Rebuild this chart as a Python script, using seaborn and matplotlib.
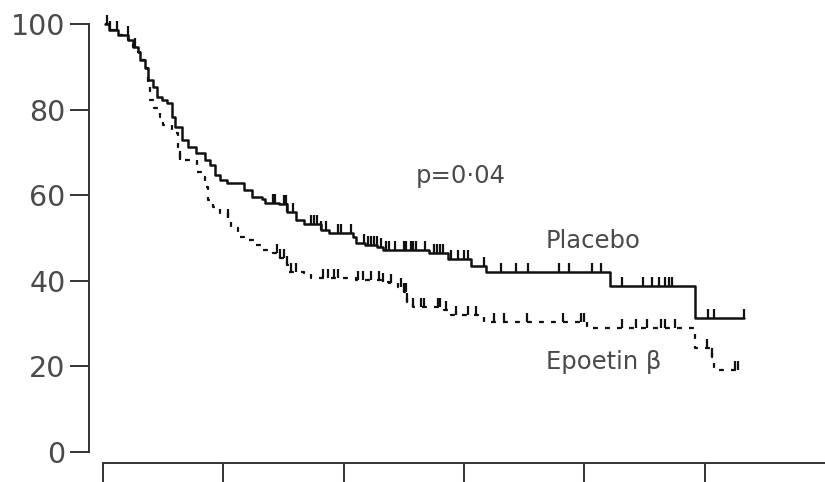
import numpy as np
import matplotlib
matplotlib.use("Agg")
import matplotlib.pyplot as plt
import seaborn as sns

# Kaplan-Meier step curves: time of each step and survival (%) from that time on
placebo_t = [0.02, 0.05, 0.125, 0.21, 0.25, 0.29, 0.31, 0.35, 0.375, 0.417, 0.45, 0.49,
             0.53, 0.575, 0.6, 0.66, 0.71, 0.77, 0.85, 0.89, 0.93, 0.975, 1.03, 1.17,
             1.24, 1.325, 1.35, 1.46, 1.53, 1.6, 1.67, 1.81, 1.875, 2.075, 2.1, 2.18,
             2.28, 2.33, 2.71, 2.87, 3.06, 3.18, 4.21, 4.92, 5.33]
placebo_s = [100, 98.6, 97.4, 96.3, 94.6, 93.5, 91.6, 89.7, 86.9, 85.3, 82.9, 82.2,
             81.5, 78.3, 75.9, 72.9, 71.3, 69.9, 68.2, 67.1, 64.7, 63.6, 62.9, 61.2,
             59.6, 59.1, 58.2, 57.9, 56.1, 54.2, 53.3, 51.9, 51.2, 50.2, 48.8, 48.4,
             47.9, 47.2, 46.5, 45.1, 43.5, 42.1, 38.8, 31.3, 31.3]

epoetin_t = [0.02, 0.05, 0.125, 0.21, 0.25, 0.29, 0.31, 0.35, 0.375, 0.39, 0.42, 0.475,
             0.5, 0.575, 0.62, 0.64, 0.78, 0.83, 0.85, 0.875, 0.91, 0.975, 1.04, 1.06,
             1.12, 1.17, 1.27, 1.33, 1.41, 1.475, 1.53, 1.54, 1.67, 1.725, 2.1, 2.31,
             2.375, 2.45, 2.5, 2.53, 2.58, 2.83, 2.89, 3.12, 3.17, 4.02, 4.91, 4.92,
             5.06, 5.075, 5.28]
epoetin_s = [100, 98.6, 97.4, 96.3, 94.6, 93.5, 91.6, 89.7, 86.0, 82.2, 80.4, 78.3,
             76.4, 74.5, 70.6, 68.2, 65.4, 64.3, 61.9, 58.9, 57.2, 55.8, 54.7, 52.3,
             50.2, 49.5, 48.4, 47.2, 46.5, 45.3, 43.7, 42.1, 41.8, 40.7, 40.2, 39.7,
             39.5, 38.6, 37.4, 35.0, 33.9, 33.2, 32.0, 31.5, 30.4, 29.0, 28.0, 24.3,
             22.2, 19.2, 19.2]

# Censored observations (times)
placebo_cens = [0.033, 0.058, 0.117, 0.208, 0.267, 1.41, 1.43, 1.5, 1.52, 1.53, 1.58,
                1.725, 1.75, 1.78, 1.81, 1.85, 1.95, 1.975, 2.06, 2.17, 2.2, 2.225, 2.25,
                2.275, 2.31, 2.35, 2.375, 2.43, 2.5, 2.52, 2.56, 2.58, 2.6, 2.68, 2.75,
                2.775, 2.8, 2.825, 2.89, 2.95, 3.0, 3.03, 3.17, 3.31, 3.43, 3.53, 3.79,
                3.875, 4.06, 4.14, 4.31, 4.49, 4.56, 4.62, 4.67, 4.7, 4.725, 5.03, 5.075,
                5.33]
epoetin_cens = [0.64, 1.04, 1.45, 1.475, 1.5, 1.53, 1.56, 1.6, 1.83, 1.87, 1.92, 1.95,
                2.12, 2.16, 2.225, 2.29, 2.325, 2.39, 2.475, 2.5, 2.52, 2.53, 2.58, 2.64,
                2.667, 2.78, 2.8, 2.85, 2.93, 3.03, 3.1, 3.25, 3.33, 3.52, 3.825, 3.975,
                4.0, 4.31, 4.43, 4.52, 4.64, 4.67, 4.75, 5.02, 5.06, 5.25, 5.28]

y_ticks = [0, 20, 40, 60, 80, 100]
x_ticks = [0, 1, 2, 3, 4, 5]

sns.set_theme(style="white")
plt.rcParams["font.family"] = ["DejaVu Sans"]

fig = plt.figure(figsize=(8.25, 4.82), dpi=100)
ax = fig.add_axes([103 / 825, 30 / 482, 722 / 825, 428 / 482])

ink = "#111111"
text_col = "#4a4a4a"
sns.lineplot(x=placebo_t, y=placebo_s, drawstyle="steps-post", estimator=None,
             sort=False, color=ink, lw=1.8, ax=ax, clip_on=False)
sns.lineplot(x=epoetin_t, y=epoetin_s, drawstyle="steps-post", estimator=None,
             sort=False, color=ink, lw=1.6, linestyle=(0, (2.2, 3.2)), ax=ax,
             clip_on=False)


def step_value(t, s, c):
    idx = np.searchsorted(np.asarray(t), np.asarray(c), side="right") - 1
    return np.asarray(s)[np.clip(idx, 0, len(s) - 1)]


for t, s, cens in [(placebo_t, placebo_s, placebo_cens),
                   (epoetin_t, epoetin_s, epoetin_cens)]:
    yv = step_value(t, s, cens)
    ax.vlines(cens, yv, yv + 2.1, color=ink, lw=1.6, clip_on=False)

ax.text(2.6, 62.9, "p=0\u00b704", fontsize=17.5, color=text_col, va="baseline")
ax.text(3.68, 47.7, "Placebo", fontsize=17.5, color=text_col, va="baseline")
ax.text(3.68, 19.4, "Epoetin \u03b2", fontsize=17.5, color=text_col, va="baseline")

ax.set_xlim(0, 6.0)
ax.set_ylim(0, 100)
ax.set_yticks(y_ticks)
ax.set_xticks(x_ticks)
ax.set_xticklabels([])
ax.set_xlabel("")
ax.set_ylabel("")

for side in ["top", "right"]:
    ax.spines[side].set_visible(False)
ax.spines["left"].set_position(("outward", 10))
ax.spines["left"].set_bounds(0, 100)
ax.spines["bottom"].set_position(("outward", 8))
for side in ["left", "bottom"]:
    ax.spines[side].set_color("#333333")
    ax.spines[side].set_linewidth(1.4)

ax.tick_params(axis="y", direction="out", length=14, width=1.4, pad=3,
               color="#333333", labelsize=20.5, labelcolor=text_col, left=True)
ax.tick_params(axis="x", direction="out", length=16, width=1.4,
               color="#333333", bottom=True)

fig.savefig("out.png", dpi=100)
